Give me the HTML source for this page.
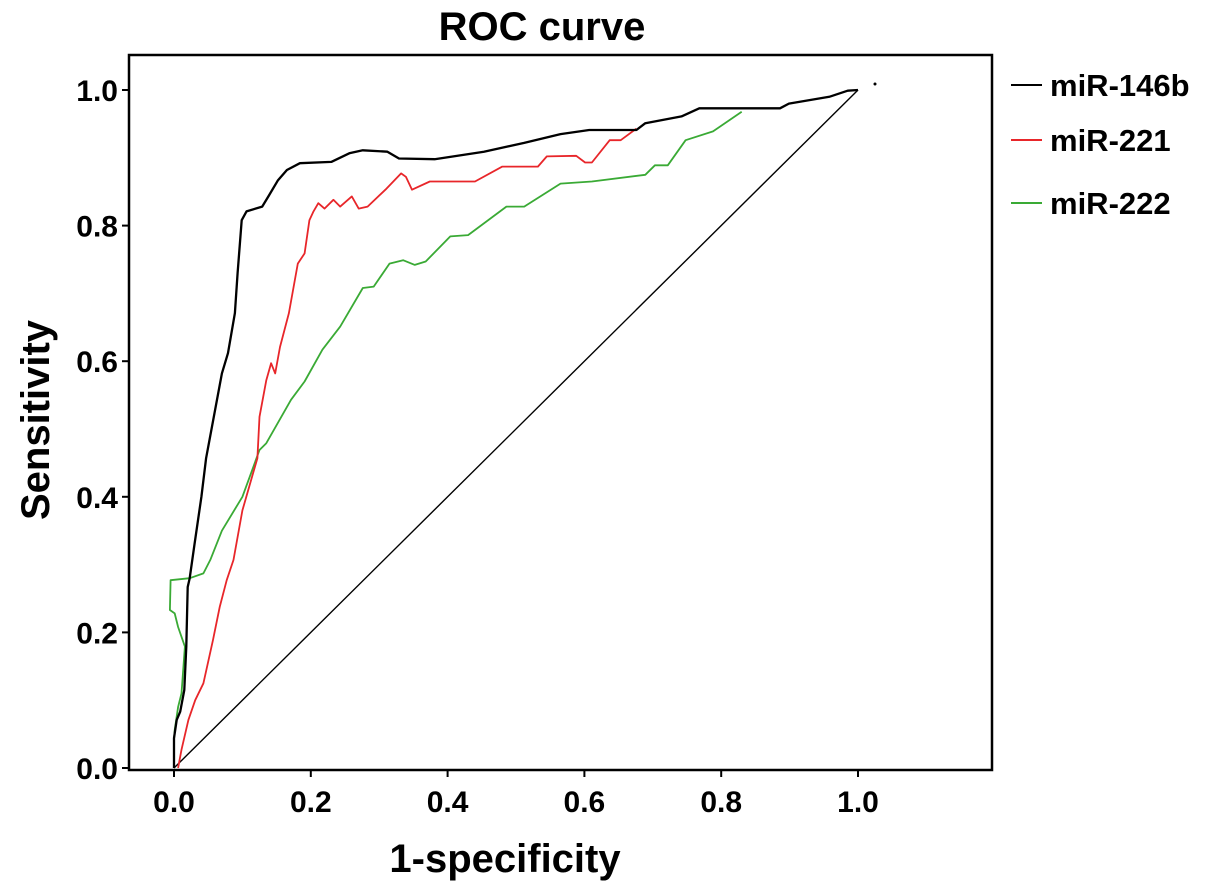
<!DOCTYPE html>
<html><head><meta charset="utf-8">
<style>
html,body{margin:0;padding:0;background:#fff;}
svg{display:block;font-family:"Liberation Sans",Arial,sans-serif;font-weight:bold;}
</style></head>
<body>
<svg id="chart" width="1205" height="894" viewBox="0 0 1205 894">
  <text x="542" y="40" font-size="40" text-anchor="middle">ROC curve</text>
  <rect x="129" y="55" width="863" height="715" fill="none" stroke="#000" stroke-width="2.5"/>
  <g id="xticks"></g>
  <g id="yticks"></g>
  <g id="series"></g>
  <circle cx="875" cy="84" r="1.5" fill="#000"/>
  <text x="505" y="872" font-size="40" text-anchor="middle">1-specificity</text>
  <text transform="translate(49,420) rotate(-90)" font-size="40" text-anchor="middle">Sensitivity</text>
  <g>
    <g>
      <line x1="1011" y1="85" x2="1042" y2="85" stroke="#000" stroke-width="2"/>
      <text x="1050" y="96" font-size="31">miR-146b</text>
    </g>
    <g>
      <line x1="1011" y1="140" x2="1042" y2="140" stroke="#e8262a" stroke-width="2"/>
      <text x="1050" y="151" font-size="31">miR-221</text>
    </g>
    <g>
      <line x1="1011" y1="203" x2="1042" y2="203" stroke="#3aaa35" stroke-width="2"/>
      <text x="1050" y="214" font-size="31">miR-222</text>
    </g>
  </g>
</svg>
<script>
const xTickValues = [0, 0.2, 0.4, 0.6, 0.8, 1.0];
const xTickLabels = ["0.0", "0.2", "0.4", "0.6", "0.8", "1.0"];
const yTickValues = [0, 0.2, 0.4, 0.6, 0.8, 1.0];
const yTickLabels = ["0.0", "0.2", "0.4", "0.6", "0.8", "1.0"];
const seriesNames = ["miR-146b", "miR-221", "miR-222"];
const fprMir146b = [0,0,0.004,0.009,0.015,0.018,0.020,0.023,0.03,0.04,0.047,0.070,0.079,0.089,0.093,0.099,0.106,0.129,0.138,0.152,0.165,0.184,0.230,0.257,0.276,0.312,0.329,0.381,0.453,0.512,0.565,0.607,0.676,0.689,0.742,0.768,0.886,0.899,0.958,0.985,1.0];
const tprMir146b = [0,0.044,0.071,0.083,0.115,0.179,0.267,0.280,0.33,0.40,0.457,0.582,0.612,0.671,0.730,0.808,0.821,0.828,0.843,0.867,0.882,0.892,0.894,0.907,0.911,0.909,0.899,0.898,0.909,0.922,0.935,0.941,0.941,0.951,0.961,0.973,0.973,0.980,0.990,0.999,1.0];
const fprMir221 = [0.006,0.011,0.021,0.031,0.043,0.057,0.067,0.077,0.087,0.10,0.122,0.125,0.135,0.142,0.148,0.155,0.168,0.181,0.191,0.198,0.204,0.211,0.220,0.233,0.243,0.260,0.270,0.283,0.309,0.332,0.339,0.348,0.374,0.440,0.480,0.532,0.545,0.588,0.601,0.611,0.637,0.653,0.676];
const tprMir221 = [0,0.027,0.071,0.100,0.125,0.189,0.238,0.277,0.307,0.38,0.457,0.518,0.572,0.597,0.582,0.621,0.671,0.744,0.759,0.808,0.821,0.833,0.825,0.838,0.828,0.843,0.825,0.828,0.853,0.877,0.872,0.853,0.865,0.865,0.887,0.887,0.902,0.903,0.893,0.893,0.926,0.926,0.943];
const fprMir222 = [0,0,0.001,0.006,0.011,0.016,0.006,0.001,-0.006,-0.005,0.023,0.043,0.053,0.07,0.10,0.125,0.135,0.171,0.191,0.217,0.243,0.276,0.292,0.315,0.335,0.352,0.368,0.404,0.430,0.486,0.512,0.565,0.611,0.689,0.703,0.722,0.748,0.788,0.830];
const tprMir222 = [0,0.041,0.056,0.090,0.110,0.179,0.208,0.228,0.233,0.277,0.280,0.287,0.307,0.35,0.40,0.469,0.479,0.543,0.570,0.617,0.651,0.708,0.710,0.744,0.749,0.742,0.747,0.784,0.786,0.828,0.828,0.862,0.865,0.875,0.889,0.889,0.926,0.939,0.968];
const seriesColors = ["#000", "#e8262a", "#3aaa35"];

const X0 = 174, XU = 684, Y0 = 768, YU = 678;
function xScale(v){ return X0 + v * XU; }
function yScale(v){ return Y0 - v * YU; }
const NS = "http://www.w3.org/2000/svg";

const xg = document.getElementById('xticks');
xTickValues.forEach((v, i) => {
  const t = document.createElementNS(NS, 'line');
  t.setAttribute('x1', xScale(v)); t.setAttribute('x2', xScale(v));
  t.setAttribute('y1', 770); t.setAttribute('y2', 777);
  t.setAttribute('stroke', '#000'); t.setAttribute('stroke-width', 2);
  
  
  xg.appendChild(t);
  const l = document.createElementNS(NS, 'text');
  l.setAttribute('x', xScale(v)); l.setAttribute('y', 812);
  l.setAttribute('font-size', 30); l.setAttribute('text-anchor', 'middle');
  l.textContent = xTickLabels[i];
  
  
  xg.appendChild(l);
});
const yg = document.getElementById('yticks');
yTickValues.forEach((v, i) => {
  const t = document.createElementNS(NS, 'line');
  t.setAttribute('x1', 122); t.setAttribute('x2', 129);
  t.setAttribute('y1', yScale(v)); t.setAttribute('y2', yScale(v));
  t.setAttribute('stroke', '#000'); t.setAttribute('stroke-width', 2);
  
  
  yg.appendChild(t);
  const l = document.createElementNS(NS, 'text');
  l.setAttribute('x', 118); l.setAttribute('y', yScale(v) + 11);
  l.setAttribute('font-size', 30); l.setAttribute('text-anchor', 'end');
  l.textContent = yTickLabels[i];
  
  
  yg.appendChild(l);
});

const sg = document.getElementById('series');
const diag = document.createElementNS(NS, 'line');
diag.setAttribute('x1', xScale(0)); diag.setAttribute('y1', yScale(0));
diag.setAttribute('x2', xScale(1)); diag.setAttribute('y2', yScale(1));
diag.setAttribute('stroke', '#000'); diag.setAttribute('stroke-width', 1.4);


sg.appendChild(diag);

const xsAll = [fprMir146b, fprMir221, fprMir222];
const ysAll = [tprMir146b, tprMir221, tprMir222];
const order = [2, 1, 0];
order.forEach(k => {
  const xs = xsAll[k], ys = ysAll[k];
  const pts = xs.map((x, i) => xScale(x).toFixed(1) + ',' + yScale(ys[i]).toFixed(1)).join(' ');
  const p = document.createElementNS(NS, 'polyline');
  p.setAttribute('points', pts);
  p.setAttribute('fill', 'none');
  p.setAttribute('stroke', seriesColors[k]);
  p.setAttribute('stroke-width', k === 0 ? 2.3 : 1.8);
  p.setAttribute('stroke-linejoin', 'round');
  
  
  sg.appendChild(p);
});
</script>
</body></html>
